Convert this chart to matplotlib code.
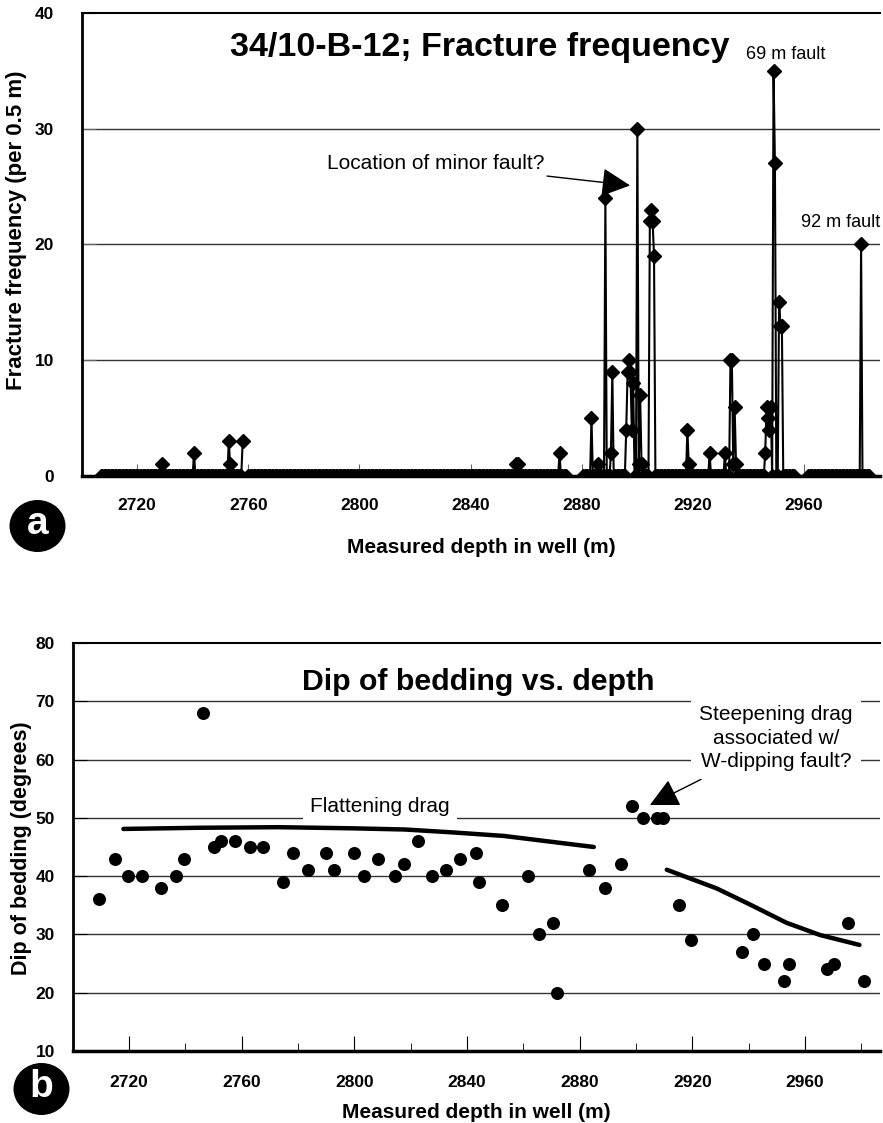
import numpy as np
import matplotlib
matplotlib.use("Agg")
import matplotlib.pyplot as plt
from matplotlib.patches import Ellipse

plt.rcParams['font.family'] = ['Liberation Sans', 'DejaVu Sans']
NARROW = ['Liberation Sans Narrow', 'Liberation Sans', 'DejaVu Sans']

# ---------------- Data: fracture frequency (per 0.5 m) ----------------
spike_depths = [2729.0, 2740.5, 2753.0, 2753.5, 2758.0, 2856.5, 2857.0, 2872.0,
                2883.5, 2886.0, 2888.5, 2890.5, 2891.0, 2896.0, 2896.5, 2897.0,
                2897.5, 2898.0, 2898.5, 2900.0, 2900.5, 2901.0, 2901.5, 2904.5,
                2905.0, 2905.5, 2906.0, 2918.0, 2918.5, 2926.0, 2931.5, 2933.5,
                2934.0, 2934.5, 2935.0, 2935.5, 2946.0, 2946.5, 2947.0, 2947.5,
                2948.0, 2949.0, 2949.5, 2951.0, 2951.5, 2952.0, 2980.5]
spike_values = [1, 2, 3, 1, 3, 1, 1, 2,
                5, 1, 24, 2, 9, 4, 9, 10,
                9, 4, 8, 30, 1, 7, 1, 22,
                23, 22, 19, 4, 1, 2, 2, 10,
                10, 1, 6, 1, 2, 6, 5, 4,
                6, 35, 27, 15, 13, 13, 20]
# logged intervals (start, end) in m; outside these there is no data
logged_intervals = [(2707.0, 2758.0), (2760.0, 2874.5), (2880.5, 2956.5), (2961.5, 2983.5)]

# ---------------- Data: dip of bedding ----------------
dip_depth = [2709.4, 2715.1, 2719.8, 2724.7, 2731.5, 2736.7, 2739.5, 2746.4, 2750.3,
             2752.5, 2757.7, 2762.9, 2767.6, 2774.8, 2778.3, 2783.5, 2789.8, 2792.7,
             2799.7, 2803.5, 2808.5, 2814.4, 2817.7, 2822.5, 2827.4, 2832.4, 2837.5,
             2843.2, 2844.4, 2852.5, 2861.6, 2865.4, 2870.4, 2872.1, 2883.2, 2889.1,
             2894.5, 2898.6, 2902.5, 2907.3, 2909.7, 2915.4, 2919.4, 2937.7, 2941.4,
             2945.4, 2952.5, 2954.4, 2967.7, 2970.3, 2975.3, 2980.9]
dip_value = [36, 43, 40, 40, 38, 40, 43, 68, 45,
             46, 46, 45, 45, 39, 44, 41, 44, 41,
             44, 40, 43, 40, 42, 46, 40, 41, 43,
             44, 39, 35, 40, 30, 32, 20, 41, 38,
             42, 52, 50, 50, 50, 35, 29, 27, 30,
             25, 22, 25, 24, 25, 32, 22]

flat_depth = [2718, 2745, 2773, 2800, 2818, 2835, 2853, 2885]
flat_value = [48.1, 48.3, 48.4, 48.2, 48.0, 47.5, 46.9, 45.0]
steep_depth = [2910.9, 2928.6, 2941.0, 2953.4, 2965.3, 2979.3]
steep_value = [41.1, 37.9, 35.0, 32.0, 29.9, 28.2]

top_yticks = [0, 10, 20, 30, 40]
bot_yticks = [10, 20, 30, 40, 50, 60, 70, 80]
xticks_major = [2720, 2760, 2800, 2840, 2880, 2920, 2960]
xticks_minor = [2740, 2780, 2820, 2860, 2900, 2940, 2980]

# build the 0.5 m series
grid = np.arange(2700.0, 2988.0, 0.5)
freq = np.full(grid.shape, np.nan)
for a, b in logged_intervals:
    freq[(grid >= a - 1e-6) & (grid <= b + 1e-6)] = 0.0
for d, v in zip(spike_depths, spike_values):
    freq[np.argmin(np.abs(grid - d))] = v

W, H = 883, 1123
fig = plt.figure(figsize=(W / 100, H / 100), dpi=100)

def fx(x):
    return x / W

def fy(y):
    return 1 - y / H


def style_ticklabels(ax):
    for lab in ax.get_xticklabels() + ax.get_yticklabels():
        lab.set_fontweight('bold')
        lab.set_fontsize(12.5)
        lab.set_family(NARROW)

# ---------------- Top panel ----------------
ax1 = fig.add_axes([fx(82), fy(476), (880 - 82) / W, (476 - 13) / H])
ax1.plot(grid, freq, color='black', lw=1.5, marker='D', ms=7, mfc='black', mec='black')
ax1.set_xlim(2700.2, 2987.3)
ax1.set_ylim(0, 40)
ax1.set_yticks(top_yticks)
ax1.set_xticks(xticks_major)
ax1.set_xticks(xticks_minor, minor=True)
for y in top_yticks[1:-1]:
    ax1.axhline(y, color='0.2', lw=1.0, zorder=0)
ax1.tick_params(axis='both', which='both', direction='in', color='0.4')
ax1.tick_params(axis='x', which='major', length=9, pad=16)
ax1.tick_params(axis='x', which='minor', length=5)
ax1.tick_params(axis='y', length=10, pad=20)
style_ticklabels(ax1)
ax1.spines['right'].set_visible(False)
ax1.spines['left'].set_linewidth(2)
ax1.spines['bottom'].set_linewidth(2.5)
ax1.spines['top'].set_linewidth(1.5)
ax1.set_xlabel('Measured depth in well (m)', fontsize=15, fontweight='bold', labelpad=18)
ax1.set_ylabel('Fracture frequency (per 0.5 m)', fontsize=16, fontweight='bold')
ax1.yaxis.set_label_coords(fx(17), fy(230), transform=fig.transFigure)
ax1.yaxis.label.set_va('center')
ax1.text(2843.4, 37.0, '34/10-B-12; Fracture frequency', fontsize=24.5, fontweight='bold',
         ha='center', va='center')
ax1.text(2953.5, 36.4, '69 m fault', fontsize=13, ha='center', va='center')
ax1.text(2973.3, 21.9, '92 m fault', fontsize=13, ha='center', va='center')
ax1.annotate('Location of minor fault?', xy=(2897.4, 25.1), xytext=(2866.6, 27.0),
             fontsize=15, ha='right', va='center',
             arrowprops=dict(arrowstyle='-|>,head_length=0.9,head_width=0.45', lw=1,
                             color='black', shrinkA=2, shrinkB=0, mutation_scale=20))

# ---------------- Bottom panel ----------------
ax2 = fig.add_axes([fx(73), fy(1051), (880 - 73) / W, (1051 - 643) / H])
ax2.scatter(dip_depth, dip_value, s=88, color='black', zorder=3, linewidths=0)
ax2.plot(flat_depth, flat_value, color='black', lw=3.2, zorder=3, solid_capstyle='round')
ax2.plot(steep_depth, steep_value, color='black', lw=3.2, zorder=3, solid_capstyle='round')
ax2.set_xlim(2700.1, 2986.6)
ax2.set_ylim(10, 80)
ax2.set_yticks(bot_yticks)
ax2.set_xticks(xticks_major)
ax2.set_xticks(xticks_minor, minor=True)
for y in bot_yticks[1:-1]:
    ax2.axhline(y, color='0.2', lw=1.0, zorder=0)
ax2.tick_params(axis='both', which='both', direction='in', color='black')
ax2.tick_params(axis='x', which='major', length=11, pad=17)
ax2.tick_params(axis='x', which='minor', length=6)
ax2.tick_params(axis='y', length=10, pad=13)
style_ticklabels(ax2)
ax2.spines['right'].set_visible(False)
ax2.spines['left'].set_linewidth(2)
ax2.spines['bottom'].set_linewidth(2.5)
ax2.spines['top'].set_linewidth(1.5)
ax2.set_xlabel('Measured depth in well (m)', fontsize=15, fontweight='bold', labelpad=10)
ax2.set_ylabel('Dip of bedding (degrees)', fontsize=15.5, fontweight='bold')
ax2.yaxis.set_label_coords(fx(22), fy(848), transform=fig.transFigure)
ax2.yaxis.label.set_va('center')
ax2.text(2843.9, 73.3, 'Dip of bedding vs. depth', fontsize=21.8, fontweight='bold',
         ha='center', va='center')
ax2.text(2809.1, 51.9, 'Flattening drag', fontsize=15, ha='center', va='center',
         bbox=dict(facecolor='white', edgecolor='none', pad=5), zorder=2)
ax2.annotate('Steepening drag\nassociated w/\nW-dipping fault?', xy=(2904.9, 52.2),
             xytext=(2949.7, 63.7), fontsize=15, ha='center', va='center',
             linespacing=1.3,
             bbox=dict(facecolor='white', edgecolor='none', pad=6), zorder=2,
             arrowprops=dict(arrowstyle='-|>,head_length=0.9,head_width=0.45', lw=1,
                             color='black', shrinkA=0, shrinkB=0, mutation_scale=20,
                             relpos=(0.12, 0.0)))

# ---------------- Panel badges ----------------
for (cx, cy, letter) in [(37.5, 526, 'a'), (41.5, 1089, 'b')]:
    fig.patches.append(Ellipse((fx(cx), fy(cy)), 56 / W, 52 / H, transform=fig.transFigure,
                               facecolor='black', edgecolor='none'))
    fig.text(fx(cx), fy(cy) + 0.002, letter, color='white', fontsize=28, fontweight='bold',
             ha='center', va='center')

fig.savefig('out.png', dpi=100, facecolor='white')
